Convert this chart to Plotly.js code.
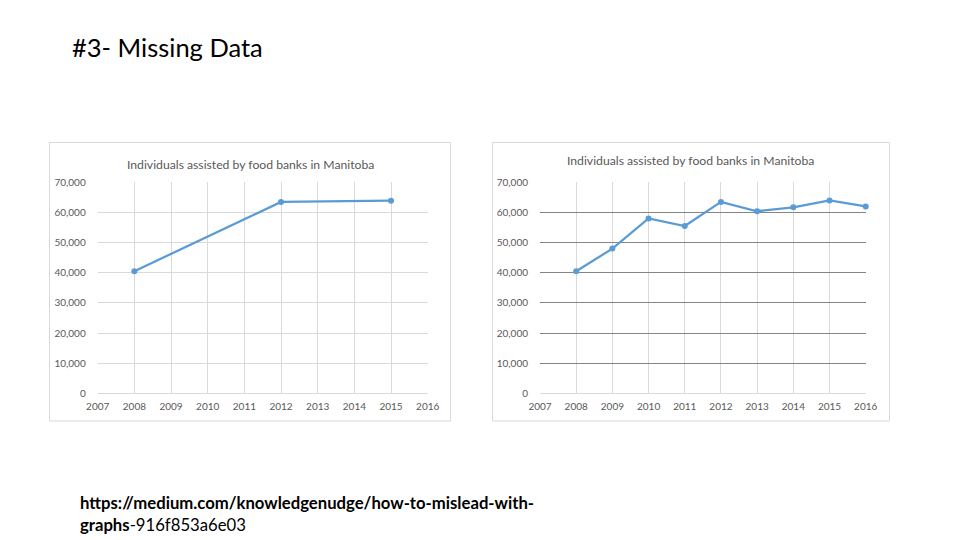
<!DOCTYPE html>
<html>
<head>
<meta charset="utf-8">
<script src="https://cdn.plot.ly/plotly-3.0.1.min.js"></script>
<style>html,body{margin:0;padding:0;background:#fff;}#chart{width:960px;height:540px;}</style>
</head>
<body>
<div id="chart"></div>
<script>
// ---- data ----
const yearTicks = [2007, 2008, 2009, 2010, 2011, 2012, 2013, 2014, 2015, 2016];
const yearLabels = ['2007', '2008', '2009', '2010', '2011', '2012', '2013', '2014', '2015', '2016'];
const leftYears = [2008, 2012, 2015];
const leftValues = [40500, 63500, 63900];
const rightYears = [2008, 2009, 2010, 2011, 2012, 2013, 2014, 2015, 2016];
const rightValues = [40500, 48000, 58000, 55500, 63500, 60400, 61700, 64000, 62000];
const yTicks = [0, 10000, 20000, 30000, 40000, 50000, 60000, 70000];
const yLabels = ['0', '10,000', '20,000', '30,000', '40,000', '50,000', '60,000', '70,000'];
const gridVals = [10000, 20000, 30000, 40000, 50000, 60000];
const chartTitle = 'Individuals assisted by food banks in Manitoba';
const slideTitle = '#3- Missing Data';
const urlLine1 = 'https://medium.com/knowledgenudge/how-to-mislead-with-';
const urlLine2a = 'graphs';
const urlLine2b = '-916f853a6e03';

// ---- style ----
const blue = '#5b9bd5';
const fam = 'Lato, "Open Sans", sans-serif';
const tickFont = {family: fam, size: 10, color: '#595959'};
const lightGrid = '#d9d9d9';
const darkGrid = '#858585';

function lineTrace(x, y, xa, ya) {
  return {
    type: 'scatter', mode: 'lines+markers', x: x, y: y, xaxis: xa, yaxis: ya,
    line: {color: blue, width: 2.25}, marker: {color: blue, size: 6},
    hoverinfo: 'skip', cliponaxis: false
  };
}
function emptyTrace(xa, ya) {
  return {type: 'scatter', mode: 'markers', x: [], y: [], xaxis: xa, yaxis: ya, hoverinfo: 'skip'};
}

const data = [
  emptyTrace('x', 'y3'),
  emptyTrace('x2', 'y4'),
  lineTrace(leftYears, leftValues, 'x', 'y'),
  lineTrace(rightYears, rightValues, 'x2', 'y2')
];

const yDom = [1 - 393.3 / 540, 1 - 182.3 / 540];

function xAxis(domain, anchor) {
  return {
    domain: domain, anchor: anchor, range: [2007, 2016], tickmode: 'array',
    tickvals: yearTicks, ticktext: yearLabels, showgrid: true, gridcolor: lightGrid, gridwidth: 1,
    zeroline: false, showline: false, ticks: 'outside', ticklen: 4, tickcolor: 'rgba(0,0,0,0)',
    tickfont: tickFont, fixedrange: true
  };
}
function yAxis(anchor) {
  return {
    domain: yDom, anchor: anchor, range: [0, 70000], tickmode: 'array',
    tickvals: yTicks, ticktext: yLabels, showgrid: false, zeroline: true,
    zerolinecolor: lightGrid, zerolinewidth: 1, showline: false,
    ticks: 'outside', ticklen: 9, tickcolor: 'rgba(0,0,0,0)', tickfont: tickFont, fixedrange: true
  };
}
function gridAxis(overlay, anchor, color) {
  return {
    overlaying: overlay, anchor: anchor, range: [0, 70000], tickmode: 'array',
    tickvals: gridVals, showticklabels: false, showgrid: true, gridcolor: color, gridwidth: 1,
    zeroline: false, showline: false, ticks: '', fixedrange: true
  };
}

const frameLine = {color: lightGrid, width: 1};

const layout = {
  width: 960, height: 540,
  margin: {l: 0, r: 0, t: 0, b: 0},
  paper_bgcolor: '#ffffff', plot_bgcolor: '#ffffff',
  showlegend: false,
  xaxis: xAxis([97.7 / 960, 427.7 / 960], 'y'),
  yaxis: yAxis('x'),
  yaxis3: gridAxis('y', 'x', lightGrid),
  xaxis2: xAxis([540 / 960, 865.7 / 960], 'y2'),
  yaxis2: yAxis('x2'),
  yaxis4: gridAxis('y2', 'x2', darkGrid),
  shapes: [
    {type: 'rect', xref: 'paper', yref: 'paper', x0: 49.5 / 960, x1: 450.5 / 960, y0: 1 - 421 / 540, y1: 1 - 142.5 / 540, line: frameLine, layer: 'below'},
    {type: 'rect', xref: 'paper', yref: 'paper', x0: 492.5 / 960, x1: 889.5 / 960, y0: 1 - 421 / 540, y1: 1 - 142.5 / 540, line: frameLine, layer: 'below'}
  ],
  annotations: [
    {text: slideTitle, xref: 'paper', yref: 'paper', x: 70 / 960, y: 1 - 47 / 540, xanchor: 'left', yanchor: 'middle',
     showarrow: false, font: {family: fam, size: 25.5, color: '#000000'}},
    {text: chartTitle, xref: 'paper', yref: 'paper', x: 250 / 960, y: 1 - 164 / 540, xanchor: 'center', yanchor: 'middle',
     showarrow: false, font: {family: fam, size: 12.2, color: '#595959'}},
    {text: chartTitle, xref: 'paper', yref: 'paper', x: 690 / 960, y: 1 - 160 / 540, xanchor: 'center', yanchor: 'middle',
     showarrow: false, font: {family: fam, size: 12.2, color: '#595959'}},
    {text: '<b>' + urlLine1 + '</b>', xref: 'paper', yref: 'paper', x: 78 / 960, y: 1 - 503 / 540, xanchor: 'left', yanchor: 'middle',
     showarrow: false, font: {family: fam, size: 16.7, color: '#000000'}},
    {text: '<b>' + urlLine2a + '</b>' + urlLine2b, xref: 'paper', yref: 'paper', x: 78 / 960, y: 1 - 525 / 540, xanchor: 'left', yanchor: 'middle',
     showarrow: false, font: {family: fam, size: 16.7, color: '#000000'}}
  ]
};

Plotly.newPlot('chart', data, layout, {staticPlot: true, displayModeBar: false});
</script>
</body>
</html>
